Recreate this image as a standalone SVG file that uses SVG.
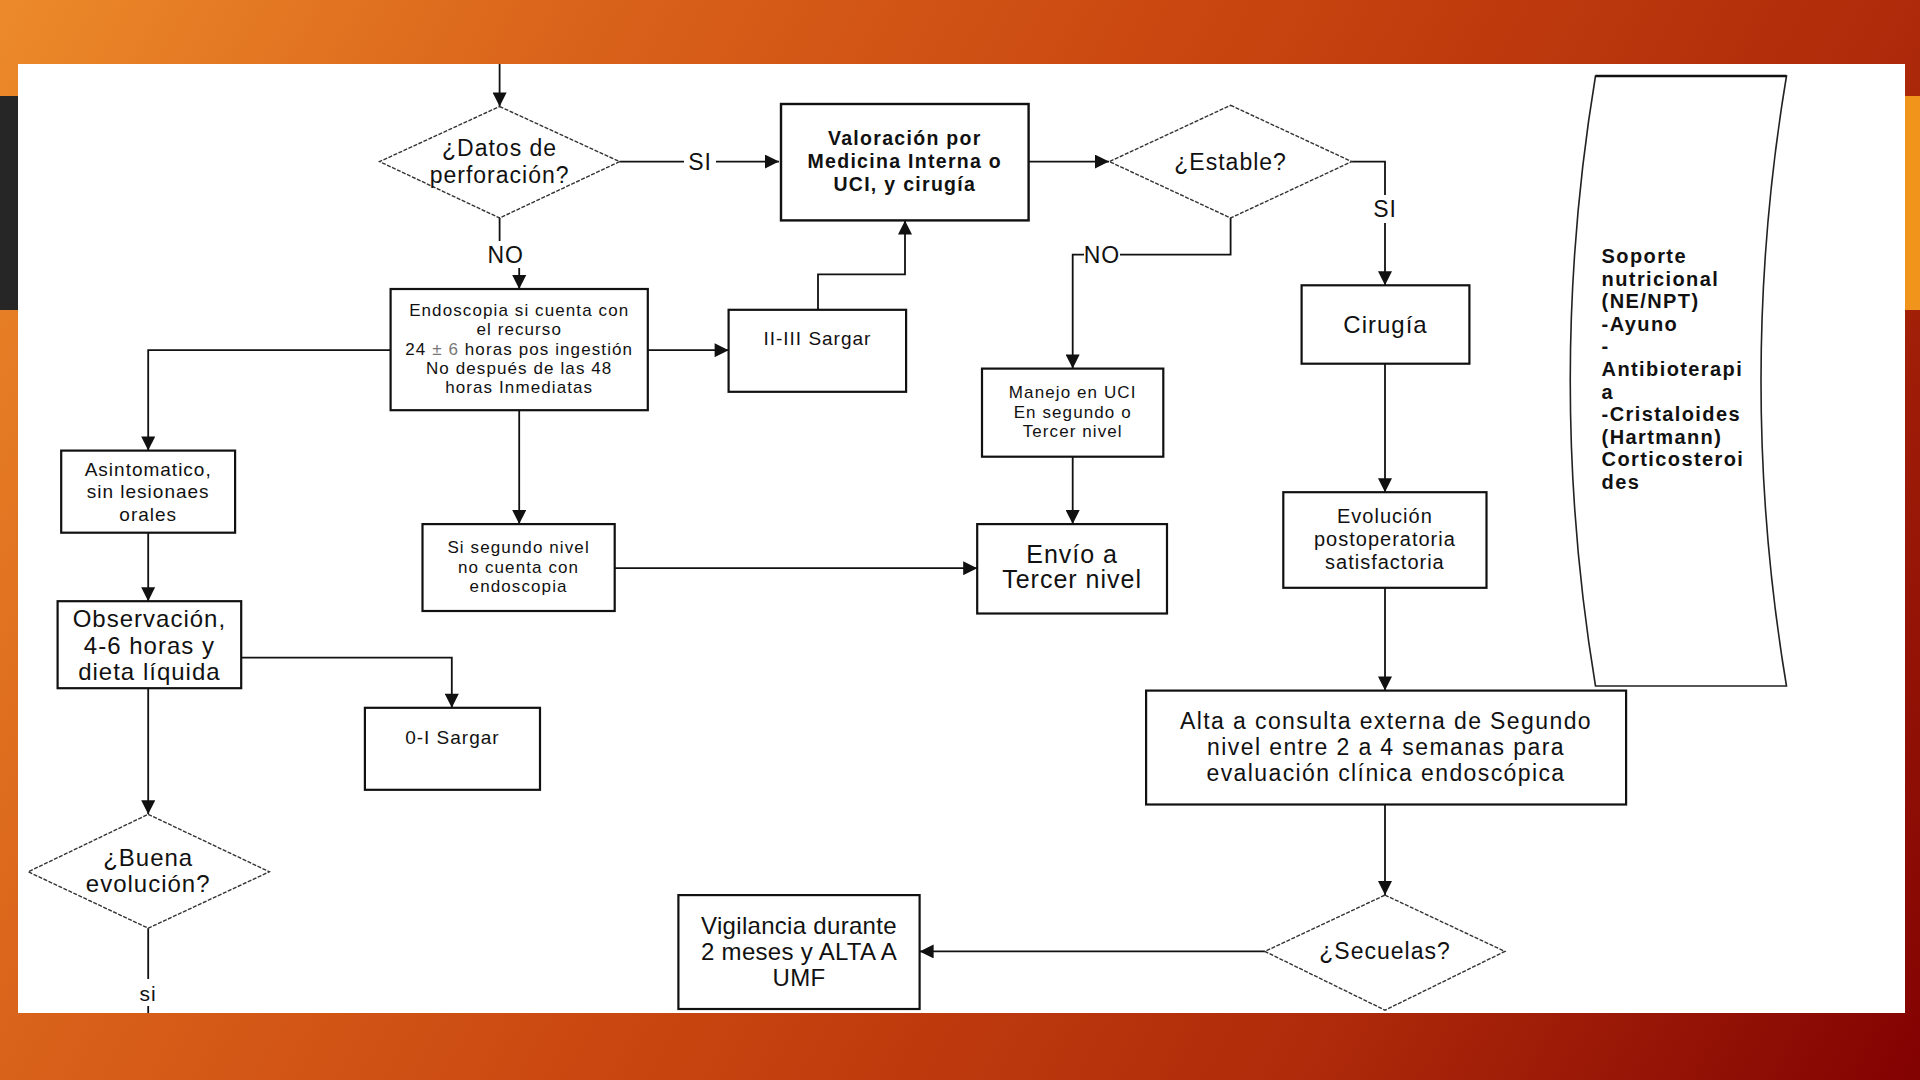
<svg xmlns="http://www.w3.org/2000/svg" width="1920" height="1080" viewBox="0 0 1920 1080">
<defs>
<linearGradient id="bg" gradientUnits="userSpaceOnUse" x1="0" y1="0" x2="1920" y2="1080">
<stop offset="0" stop-color="#EC8A2A"/>
<stop offset="0.24" stop-color="#D9621A"/>
<stop offset="0.5" stop-color="#C8440F"/>
<stop offset="0.76" stop-color="#AE2A0A"/>
<stop offset="1" stop-color="#820202"/>
</linearGradient>
<marker id="arr" viewBox="0 0 12 12" refX="12" refY="6" markerWidth="15" markerHeight="14" markerUnits="userSpaceOnUse" orient="auto">
<path d="M0,0 L12,6 L0,12 z" fill="#111"/>
</marker>
<style>
.box{fill:#fff;stroke:#111;stroke-width:2.2}
.dia{fill:#fff;stroke:#333;stroke-width:1.4;stroke-dasharray:4 1.5}
.ln{fill:none;stroke:#111;stroke-width:1.8}
.ar{fill:none;stroke:#111;stroke-width:1.8;marker-end:url(#arr)}
text{font-family:"Liberation Sans",Arial,sans-serif;fill:#111;text-anchor:middle;dominant-baseline:central}
.b{font-weight:bold}
.t16{font-size:17px;letter-spacing:1.1px}
.t19{font-size:19px;letter-spacing:1px}
.t22{font-size:23px;letter-spacing:1px}
.t24{font-size:24px;letter-spacing:1px}
.side{font-size:20px;font-weight:bold;letter-spacing:1.4px;text-anchor:start}
</style>
</defs>
<rect x="0" y="0" width="1920" height="1080" fill="url(#bg)"/>
<rect x="0" y="96" width="18" height="214" fill="#262626"/>
<rect x="1905" y="96" width="15" height="214" fill="#F0941C"/>
<rect x="18" y="64" width="1887" height="949" fill="#fff"/>

<g id="connectors">
<path class="ar" d="M499.6,64 V106.5"/>
<path class="ln" d="M619.6,161.6 H684"/>
<path class="ar" d="M716,161.6 H779"/>
<path class="ln" d="M499.6,218 V241"/>
<path class="ar" d="M519.2,268 V289"/>
<path class="ar" d="M1028.6,161.6 H1109"/>
<path class="ln" d="M1351.8,161.6 H1385 V195"/>
<path class="ar" d="M1385,223 V285.3"/>
<path class="ln" d="M1230.6,218 V254.7 H1120"/>
<path class="ar" d="M1084,254.7 H1072.7 V368.6"/>
<path class="ar" d="M647.8,350.2 H728.6"/>
<path class="ar" d="M818,309.8 V274.3 H905 V220.4"/>
<path class="ar" d="M390.6,350.2 H148.2 V450.6"/>
<path class="ar" d="M519.2,410.2 V524.1"/>
<path class="ar" d="M614.7,568.2 H977.2"/>
<path class="ar" d="M1072.7,456.7 V524.1"/>
<path class="ar" d="M148.2,532.7 V601.2"/>
<path class="ar" d="M241.2,657.6 H451.8 V707.8"/>
<path class="ar" d="M148.2,688.2 V814.3"/>
<path class="ln" d="M148.2,928.2 V979"/>
<path class="ln" d="M148.2,1006 V1013"/>
<path class="ar" d="M1385,363.7 V492.2"/>
<path class="ar" d="M1385,587.8 V690.6"/>
<path class="ar" d="M1385,804.5 V895.1"/>
<path class="ar" d="M1264.9,951.4 H919.6"/>
<text class="t22" x="700" y="161.6">SI</text>
<text class="t22" x="505.7" y="254.7">NO</text>
<text class="t22" x="1385" y="209.4">SI</text>
<text class="t22" x="1102" y="254.7">NO</text>
<text class="t19" style="font-size:21px" x="148.2" y="993">si</text>
</g>

<g id="n-datos">
<polygon class="dia" points="499.6,106.5 619.6,161.6 499.6,218 379.6,161.6"/>
<text class="t22" x="499.6" y="148">¿Datos de</text>
<text class="t22" x="499.6" y="175">perforación?</text>
</g>
<g id="n-valoracion">
<rect class="box" x="781" y="104" width="247.6" height="116.4" style="stroke-width:2.4"/>
<text class="b" style="font-size:19.5px;letter-spacing:1.3px" x="904.8" y="138">Valoración por</text>
<text class="b" style="font-size:19.5px;letter-spacing:1.3px" x="904.8" y="161">Medicina Interna o</text>
<text class="b" style="font-size:19.5px;letter-spacing:1.3px" x="904.8" y="184">UCI, y cirugía</text>
</g>
<g id="n-estable">
<polygon class="dia" points="1230.6,105.3 1351.8,161.6 1230.6,218 1109.4,161.6"/>
<text class="t22" x="1230.6" y="161.6">¿Estable?</text>
</g>
<g id="n-endoscopia">
<rect class="box" x="390.6" y="289" width="257.2" height="121.2"/>
<text class="t16" x="519.2" y="310">Endoscopia si cuenta con</text>
<text class="t16" x="519.2" y="329.4">el recurso</text>
<text class="t16" x="519.2" y="349">24 <tspan fill="#777">± 6</tspan> horas pos ingestión</text>
<text class="t16" x="519.2" y="368.6">No después de las  48</text>
<text class="t16" x="519.2" y="387.5">horas Inmediatas</text>
</g>
<g id="n-sargar23">
<rect class="box" x="728.6" y="309.8" width="177.5" height="82"/>
<text class="t19" x="817.4" y="338">II-III Sargar</text>
</g>
<g id="n-manejo">
<rect class="box" x="982" y="368.6" width="181.3" height="88.1"/>
<text class="t16" x="1072.7" y="392">Manejo en UCI</text>
<text class="t16" x="1072.7" y="412.7">En segundo o</text>
<text class="t16" x="1072.7" y="431.5">Tercer nivel</text>
</g>
<g id="n-cirugia">
<rect class="box" x="1301.6" y="285.3" width="167.8" height="78.4"/>
<text class="t24" x="1385.5" y="324.5">Cirugía</text>
</g>
<g id="n-asintomatico">
<rect class="box" x="61.2" y="450.6" width="173.9" height="82.1"/>
<text class="t19" x="148.2" y="469">Asintomatico,</text>
<text class="t19" x="148.2" y="491.5">sin lesionaes</text>
<text class="t19" x="148.2" y="514.3">orales</text>
</g>
<g id="n-segundo">
<rect class="box" x="422.5" y="524.1" width="192.2" height="86.9"/>
<text class="t16" x="518.6" y="547.4">Si segundo nivel</text>
<text class="t16" x="518.6" y="567">no cuenta con</text>
<text class="t16" x="518.6" y="586.5">endoscopia</text>
</g>
<g id="n-envio">
<rect class="box" x="977.2" y="524.1" width="189.8" height="89.4"/>
<text class="t24" style="font-size:25px" x="1072.1" y="553.5">Envío a</text>
<text class="t24" style="font-size:25px" x="1072.1" y="579.2">Tercer nivel</text>
</g>
<g id="n-evolucion">
<rect class="box" x="1283.3" y="492.2" width="203.2" height="95.6"/>
<text class="t19" style="font-size:20px" x="1384.9" y="515.5">Evolución</text>
<text class="t19" style="font-size:20px" x="1384.9" y="538.8">postoperatoria</text>
<text class="t19" style="font-size:20px" x="1384.9" y="562">satisfactoria</text>
</g>
<g id="n-observacion">
<rect class="box" x="57.6" y="601.2" width="183.6" height="87"/>
<text class="t24" x="149.4" y="618.4">Observación,</text>
<text class="t24" x="149.4" y="645.3">4-6 horas y</text>
<text class="t24" x="149.4" y="671">dieta líquida</text>
</g>
<g id="n-sargar01">
<rect class="box" x="364.9" y="707.8" width="175.1" height="82"/>
<text class="t19" x="452.4" y="737">0-I Sargar</text>
</g>
<g id="n-alta">
<rect class="box" x="1146.1" y="690.6" width="480" height="113.9"/>
<text class="t22" style="letter-spacing:1.4px" x="1386" y="721.2">Alta a consulta externa de Segundo</text>
<text class="t22" style="letter-spacing:1.4px" x="1386" y="747">nivel entre 2 a 4 semanas para</text>
<text class="t22" style="letter-spacing:1.4px" x="1386" y="772.7">evaluación clínica endoscópica</text>
</g>
<g id="n-buena">
<polygon class="dia" points="148.2,814.3 269.4,871.8 148.2,928.2 28.2,871.8"/>
<text class="t24" x="148.2" y="857">¿Buena</text>
<text class="t24" x="148.2" y="883">evolución?</text>
</g>
<g id="n-secuelas">
<polygon class="dia" points="1385,895.1 1504.9,951.4 1385,1010.2 1264.9,951.4"/>
<text class="t22" x="1385" y="951.4">¿Secuelas?</text>
</g>
<g id="n-vigilancia">
<rect class="box" x="678.4" y="895.1" width="241.2" height="113.9"/>
<text class="t24" style="letter-spacing:0.3px" x="799" y="925.7">Vigilancia durante</text>
<text class="t24" style="letter-spacing:0.3px" x="799" y="951.4">2 meses y ALTA A</text>
<text class="t24" style="letter-spacing:0.3px" x="799" y="977.2">UMF</text>
</g>
<g id="n-soporte">
<path d="M1595.5,76 L1786.5,76 Q1735.5,381 1786.5,686 L1595.5,686 Q1545,381 1595.5,76 Z" fill="#fff" stroke="#222" stroke-width="1.6"/>
<line x1="1595.5" y1="76" x2="1786.5" y2="76" stroke="#111" stroke-width="2.4"/>
<text class="side" x="1601.6" y="256">Soporte</text>
<text class="side" x="1601.6" y="278.6">nutricional</text>
<text class="side" x="1601.6" y="301.2">(NE/NPT)</text>
<text class="side" x="1601.6" y="323.8">-Ayuno</text>
<text class="side" x="1601.6" y="346.4">-</text>
<text class="side" x="1601.6" y="369">Antibioterapi</text>
<text class="side" x="1601.6" y="391.6">a</text>
<text class="side" x="1601.6" y="414.2">-Cristaloides</text>
<text class="side" x="1601.6" y="436.8">(Hartmann)</text>
<text class="side" x="1601.6" y="459.4">Corticosteroi</text>
<text class="side" x="1601.6" y="482">des</text>
</g>
</svg>
